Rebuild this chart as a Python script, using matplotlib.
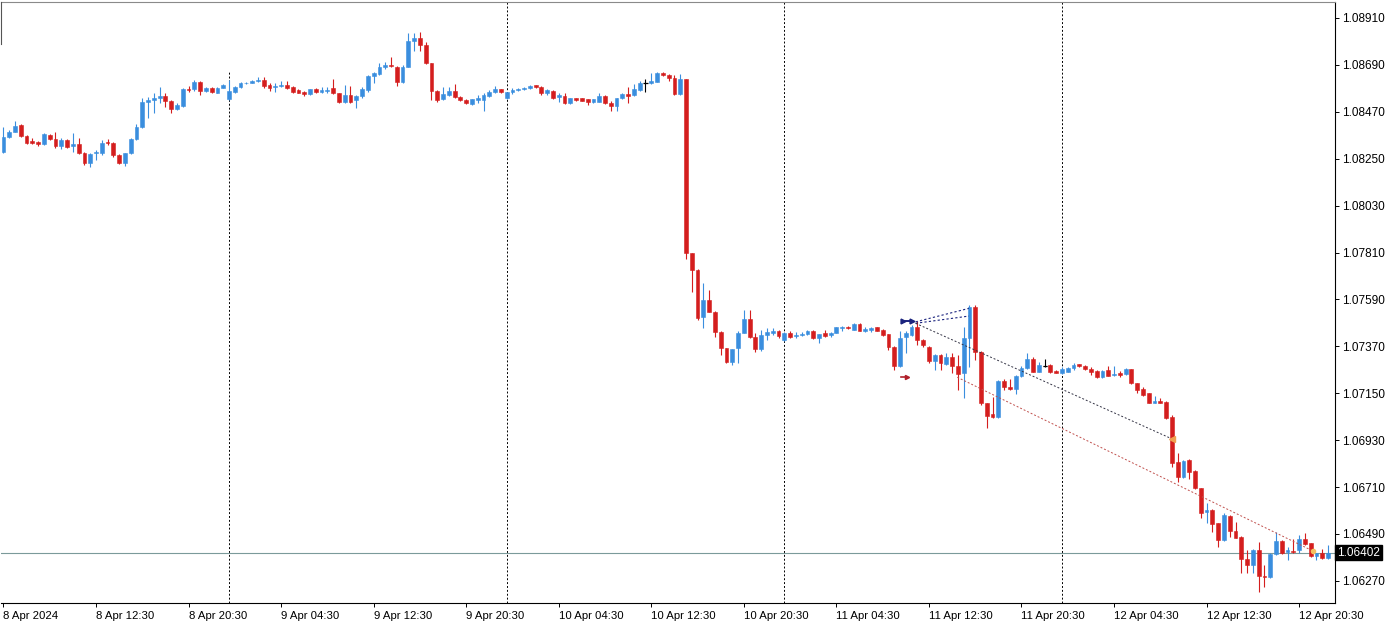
"""EURUSD M30 candles, 8-12 Apr 2024, drawn in the MetaTrader style."""
import matplotlib
matplotlib.use("Agg")
import matplotlib.pyplot as plt
import numpy as np

# (open, high, low, close) per 30-minute bar, first bar 8 Apr 04:30
apr08 = [
    (1.08283, 1.08398, 1.08276, 1.08353), (1.08353, 1.08384, 1.08349, 1.08374),
    (1.08376, 1.08428, 1.08375, 1.08403), (1.08408, 1.08413, 1.08351, 1.08356),
    (1.08356, 1.08361, 1.08317, 1.08325), (1.08334, 1.08345, 1.08317, 1.08325),
    (1.08328, 1.08334, 1.08309, 1.08319), (1.08319, 1.08369, 1.08314, 1.08364),
    (1.08359, 1.08365, 1.08337, 1.08343), (1.08341, 1.08374, 1.08298, 1.08309),
    (1.08309, 1.08348, 1.08294, 1.08337), (1.08337, 1.08342, 1.08301, 1.08306),
    (1.08309, 1.08372, 1.08283, 1.08319), (1.08319, 1.08347, 1.08274, 1.08278),
    (1.08278, 1.08281, 1.08219, 1.08231), (1.08231, 1.08276, 1.08209, 1.08272),
    (1.08275, 1.08291, 1.08244, 1.08281), (1.08278, 1.08337, 1.08267, 1.08325),
    (1.08328, 1.08341, 1.08314, 1.08322), (1.08325, 1.08328, 1.08259, 1.08267),
    (1.08267, 1.08272, 1.08227, 1.08231), (1.08231, 1.08279, 1.08215, 1.08275),
    (1.08275, 1.08347, 1.08272, 1.08341), (1.08341, 1.08413, 1.08337, 1.08400),
    (1.08400, 1.08534, 1.08396, 1.08517), (1.08517, 1.08538, 1.08441, 1.08525),
    (1.08525, 1.08559, 1.08465, 1.08533), (1.08533, 1.08585, 1.08510, 1.08544),
    (1.08544, 1.08559, 1.08491, 1.08522), (1.08522, 1.08525, 1.08465, 1.08481),
    (1.08481, 1.08510, 1.08478, 1.08500), (1.08497, 1.08581, 1.08492, 1.08575),
    (1.08575, 1.08591, 1.08564, 1.08572), (1.08575, 1.08619, 1.08569, 1.08609),
    (1.08609, 1.08614, 1.08549, 1.08567), (1.08567, 1.08587, 1.08563, 1.08583),
    (1.08583, 1.08586, 1.08558, 1.08563), (1.08559, 1.08586, 1.08556, 1.08583),
    (1.08583, 1.08600, 1.08580, 1.08594),
]
apr09 = [
    (1.08530, 1.08619, 1.08525, 1.08567), (1.08563, 1.08591, 1.08558, 1.08587),
    (1.08587, 1.08609, 1.08584, 1.08606), (1.08603, 1.08611, 1.08600, 1.08606),
    (1.08606, 1.08619, 1.08603, 1.08615), (1.08613, 1.08632, 1.08611, 1.08619),
    (1.08619, 1.08634, 1.08583, 1.08591), (1.08596, 1.08604, 1.08569, 1.08583),
    (1.08585, 1.08604, 1.08564, 1.08591), (1.08592, 1.08614, 1.08587, 1.08596),
    (1.08596, 1.08614, 1.08575, 1.08580), (1.08587, 1.08591, 1.08560, 1.08564),
    (1.08572, 1.08575, 1.08556, 1.08559), (1.08564, 1.08567, 1.08544, 1.08553),
    (1.08553, 1.08578, 1.08550, 1.08575), (1.08575, 1.08580, 1.08559, 1.08564),
    (1.08563, 1.08585, 1.08559, 1.08572), (1.08566, 1.08585, 1.08559, 1.08573),
    (1.08580, 1.08622, 1.08553, 1.08556), (1.08556, 1.08559, 1.08510, 1.08517),
    (1.08517, 1.08598, 1.08510, 1.08549), (1.08549, 1.08591, 1.08510, 1.08517),
    (1.08525, 1.08547, 1.08486, 1.08544), (1.08544, 1.08587, 1.08533, 1.08575),
    (1.08572, 1.08642, 1.08564, 1.08638), (1.08638, 1.08658, 1.08603, 1.08650),
    (1.08647, 1.08697, 1.08642, 1.08681), (1.08681, 1.08705, 1.08669, 1.08689),
    (1.08688, 1.08725, 1.08681, 1.08683), (1.08681, 1.08685, 1.08591, 1.08609),
    (1.08609, 1.08689, 1.08604, 1.08681), (1.08681, 1.08838, 1.08678, 1.08803),
    (1.08803, 1.08838, 1.08756, 1.08814), (1.08814, 1.08845, 1.08756, 1.08783),
    (1.08783, 1.08798, 1.08694, 1.08697), (1.08697, 1.08700, 1.08525, 1.08569),
    (1.08569, 1.08572, 1.08517, 1.08527), (1.08528, 1.08587, 1.08525, 1.08553),
    (1.08549, 1.08587, 1.08545, 1.08569), (1.08569, 1.08600, 1.08533, 1.08540),
    (1.08540, 1.08544, 1.08520, 1.08525), (1.08525, 1.08528, 1.08505, 1.08510),
    (1.08505, 1.08532, 1.08501, 1.08528), (1.08525, 1.08549, 1.08510, 1.08533),
    (1.08525, 1.08556, 1.08475, 1.08549), (1.08544, 1.08572, 1.08541, 1.08564),
    (1.08561, 1.08591, 1.08558, 1.08575), (1.08575, 1.08578, 1.08558, 1.08561),
]
apr10 = [
    (1.08533, 1.08564, 1.08528, 1.08561), (1.08561, 1.08580, 1.08552, 1.08572),
    (1.08572, 1.08581, 1.08567, 1.08578), (1.08575, 1.08585, 1.08572, 1.08581),
    (1.08581, 1.08594, 1.08578, 1.08591), (1.08594, 1.08596, 1.08581, 1.08585),
    (1.08587, 1.08591, 1.08549, 1.08556), (1.08556, 1.08575, 1.08549, 1.08572),
    (1.08569, 1.08572, 1.08530, 1.08533), (1.08540, 1.08556, 1.08517, 1.08549),
    (1.08544, 1.08556, 1.08506, 1.08510), (1.08510, 1.08536, 1.08505, 1.08533),
    (1.08533, 1.08536, 1.08522, 1.08525), (1.08533, 1.08536, 1.08519, 1.08522),
    (1.08528, 1.08531, 1.08502, 1.08517), (1.08514, 1.08531, 1.08512, 1.08528),
    (1.08517, 1.08556, 1.08514, 1.08544), (1.08544, 1.08547, 1.08505, 1.08510),
    (1.08510, 1.08520, 1.08475, 1.08497), (1.08497, 1.08536, 1.08475, 1.08533),
    (1.08533, 1.08556, 1.08530, 1.08553), (1.08553, 1.08587, 1.08510, 1.08544),
    (1.08549, 1.08600, 1.08545, 1.08575), (1.08572, 1.08615, 1.08569, 1.08604),
    (1.08606, 1.08622, 1.08564, 1.08606), (1.08604, 1.08650, 1.08600, 1.08615),
    (1.08611, 1.08656, 1.08608, 1.08653), (1.08653, 1.08658, 1.08639, 1.08642),
    (1.08642, 1.08646, 1.08615, 1.08627), (1.08627, 1.08642, 1.08549, 1.08552),
    (1.08552, 1.08647, 1.08549, 1.08622), (1.08622, 1.08625, 1.07778, 1.07806),
    (1.07806, 1.07809, 1.07626, 1.07728), (1.07728, 1.07731, 1.07493, 1.07501),
    (1.07509, 1.07665, 1.07454, 1.07587), (1.07587, 1.07634, 1.07529, 1.07532),
    (1.07532, 1.07535, 1.07415, 1.07438), (1.07438, 1.07443, 1.07329, 1.07361),
    (1.07361, 1.07364, 1.07290, 1.07298), (1.07298, 1.07359, 1.07282, 1.07356),
    (1.07361, 1.07440, 1.07290, 1.07434), (1.07434, 1.07540, 1.07431, 1.07497),
    (1.07497, 1.07540, 1.07410, 1.07414), (1.07415, 1.07432, 1.07345, 1.07358),
    (1.07358, 1.07446, 1.07349, 1.07423), (1.07423, 1.07454, 1.07399, 1.07435),
    (1.07432, 1.07454, 1.07423, 1.07443), (1.07443, 1.07446, 1.07407, 1.07418),
]
apr11 = [
    (1.07399, 1.07437, 1.07395, 1.07434), (1.07434, 1.07442, 1.07411, 1.07415),
    (1.07418, 1.07438, 1.07407, 1.07424), (1.07423, 1.07435, 1.07420, 1.07430),
    (1.07426, 1.07446, 1.07423, 1.07442), (1.07442, 1.07445, 1.07404, 1.07407),
    (1.07407, 1.07429, 1.07387, 1.07426), (1.07434, 1.07446, 1.07415, 1.07418),
    (1.07423, 1.07437, 1.07415, 1.07434), (1.07434, 1.07462, 1.07431, 1.07459),
    (1.07456, 1.07465, 1.07443, 1.07459), (1.07462, 1.07465, 1.07451, 1.07454),
    (1.07449, 1.07478, 1.07446, 1.07474), (1.07474, 1.07478, 1.07440, 1.07443),
    (1.07443, 1.07459, 1.07438, 1.07451), (1.07449, 1.07462, 1.07438, 1.07456),
    (1.07459, 1.07462, 1.07440, 1.07443), (1.07449, 1.07452, 1.07420, 1.07423),
    (1.07426, 1.07429, 1.07353, 1.07368), (1.07368, 1.07371, 1.07259, 1.07277),
    (1.07277, 1.07443, 1.07274, 1.07408), (1.07412, 1.07443, 1.07337, 1.07431),
    (1.07423, 1.07470, 1.07420, 1.07459), (1.07459, 1.07490, 1.07376, 1.07399),
    (1.07399, 1.07403, 1.07368, 1.07376), (1.07368, 1.07371, 1.07293, 1.07303),
    (1.07303, 1.07332, 1.07259, 1.07329), (1.07329, 1.07332, 1.07259, 1.07293),
    (1.07287, 1.07337, 1.07283, 1.07321), (1.07321, 1.07337, 1.07243, 1.07277),
    (1.07277, 1.07329, 1.07165, 1.07240), (1.07246, 1.07462, 1.07126, 1.07408),
    (1.07408, 1.07564, 1.07274, 1.07556), (1.07556, 1.07564, 1.07306, 1.07345),
    (1.07345, 1.07348, 1.07095, 1.07102), (1.07102, 1.07105, 1.06985, 1.07043),
    (1.07052, 1.07134, 1.07032, 1.07038), (1.07040, 1.07212, 1.07032, 1.07209),
    (1.07209, 1.07217, 1.07165, 1.07178), (1.07178, 1.07217, 1.07165, 1.07168),
    (1.07168, 1.07234, 1.07146, 1.07231), (1.07231, 1.07277, 1.07228, 1.07268),
    (1.07268, 1.07337, 1.07264, 1.07309), (1.07309, 1.07321, 1.07248, 1.07251),
    (1.07251, 1.07298, 1.07248, 1.07282), (1.07277, 1.07313, 1.07272, 1.07277),
    (1.07283, 1.07287, 1.07246, 1.07249), (1.07255, 1.07259, 1.07243, 1.07246),
]
apr12 = [
    (1.07243, 1.07274, 1.07240, 1.07262), (1.07251, 1.07274, 1.07248, 1.07270),
    (1.07268, 1.07290, 1.07259, 1.07283), (1.07285, 1.07287, 1.07274, 1.07277),
    (1.07277, 1.07281, 1.07259, 1.07262), (1.07262, 1.07271, 1.07236, 1.07251),
    (1.07255, 1.07259, 1.07221, 1.07224), (1.07224, 1.07259, 1.07221, 1.07255),
    (1.07259, 1.07277, 1.07229, 1.07232), (1.07234, 1.07277, 1.07231, 1.07240),
    (1.07243, 1.07255, 1.07228, 1.07236), (1.07238, 1.07268, 1.07236, 1.07262),
    (1.07262, 1.07266, 1.07193, 1.07196), (1.07196, 1.07199, 1.07149, 1.07165),
    (1.07168, 1.07178, 1.07139, 1.07142), (1.07150, 1.07153, 1.07102, 1.07105),
    (1.07105, 1.07137, 1.07102, 1.07115), (1.07115, 1.07126, 1.07102, 1.07105),
    (1.07110, 1.07113, 1.07029, 1.07032), (1.07037, 1.07048, 1.06805, 1.06821),
    (1.06829, 1.06868, 1.06735, 1.06755), (1.06755, 1.06837, 1.06751, 1.06833),
    (1.06837, 1.06840, 1.06750, 1.06782), (1.06785, 1.06788, 1.06701, 1.06704),
    (1.06704, 1.06707, 1.06563, 1.06589), (1.06593, 1.06636, 1.06540, 1.06602),
    (1.06602, 1.06605, 1.06500, 1.06535), (1.06540, 1.06543, 1.06430, 1.06461),
    (1.06461, 1.06587, 1.06458, 1.06579), (1.06574, 1.06577, 1.06477, 1.06504),
    (1.06505, 1.06547, 1.06469, 1.06472), (1.06477, 1.06480, 1.06305, 1.06375),
    (1.06375, 1.06415, 1.06305, 1.06344), (1.06344, 1.06418, 1.06305, 1.06415),
    (1.06415, 1.06453, 1.06219, 1.06293), (1.06294, 1.06344, 1.06242, 1.06286),
    (1.06286, 1.06400, 1.06283, 1.06396), (1.06396, 1.06500, 1.06393, 1.06458),
    (1.06458, 1.06461, 1.06396, 1.06400), (1.06407, 1.06430, 1.06368, 1.06415),
    (1.06412, 1.06465, 1.06402, 1.06406), (1.06415, 1.06485, 1.06402, 1.06465),
    (1.06465, 1.06496, 1.06439, 1.06443), (1.06446, 1.06449, 1.06383, 1.06386),
    (1.06386, 1.06402, 1.06368, 1.06400), (1.06400, 1.06418, 1.06373, 1.06376),
    (1.06376, 1.06438, 1.06373, 1.06402),
]

TIME_LABELS = [
    "8 Apr 2024", "8 Apr 12:30", "8 Apr 20:30", "9 Apr 04:30", "9 Apr 12:30",
    "9 Apr 20:30", "10 Apr 04:30", "10 Apr 12:30", "10 Apr 20:30", "11 Apr 04:30",
    "11 Apr 12:30", "11 Apr 20:30", "12 Apr 04:30", "12 Apr 12:30", "12 Apr 20:30",
]
PRICE_TICKS = [1.08910, 1.08690, 1.08470, 1.08250, 1.08030, 1.07810, 1.07590,
               1.07370, 1.07150, 1.06930, 1.06710, 1.06490, 1.06270]
LAST_PRICE = 1.06402

# trade objects on the chart: (bar, price) pairs
entry_arrows = [(155.5, 1.07490), (157.0, 1.07490)]
stop_arrow = (155.8, 1.07226)
blue_links = [((157.7, 1.07485), (166.9, 1.07548)), ((157.7, 1.07478), (166.9, 1.07512))]
gray_link = ((157.7, 1.07478), (202.1, 1.06935))
red_link = ((164.9, 1.07225), (226.4, 1.06410))

BULL = "#3a8ede"
BEAR = "#d41e1e"
FONT = "Liberation Sans"

days = [apr08, apr09, apr10, apr11, apr12]
ohlc = np.array(sum(days, []))
o, h, l, c = ohlc.T
x = np.arange(len(ohlc))
hi = np.maximum(h, np.maximum(o, c))
lo = np.minimum(l, np.minimum(o, c))

fig = plt.figure(figsize=(13.87, 6.27), dpi=100)
ax = fig.add_axes([1 / 1387, 24 / 627, 1334 / 1387, 601 / 627])

cols = np.where(c > o, BULL, np.where(c < o, BEAR, "#000000"))
ax.vlines(x, lo, hi, colors=cols, lw=0.8, zorder=3)
body = np.abs(c - o)
ax.bar(x, body, bottom=np.minimum(o, c), width=0.66, color=cols,
       edgecolor=cols, linewidth=0.4, zorder=4)
flat = c == o
ax.hlines(o[flat], x[flat] - 0.35, x[flat] + 0.35, colors="#000000", lw=0.9, zorder=4)

# day separators (the first one is hidden near the top, as in the terminal)
starts = np.cumsum([len(d) for d in days])[:-1]
for k, s in enumerate(starts):
    ax.axvline(s, ymax=0.885 if k == 0 else 1.0, color="#000000", lw=0.7,
               ls=(0, (2, 2)), zorder=1)

# bid line
ax.axhline(LAST_PRICE, color="#7b9a9a", lw=0.8, zorder=2)

# trade markers
for (x0, y0), (x1, y1) in blue_links:
    ax.plot([x0, x1], [y0, y1], color="#1a237e", lw=0.8, ls=(0, (2, 2)), zorder=5)
ax.plot(*zip(*gray_link), color="#333344", lw=0.7, ls=(0, (2, 2)), zorder=5)
ax.plot(*zip(*red_link), color="#c0504d", lw=0.7, ls=(0, (2, 2)), zorder=5)
ax.plot([p[0] for p in entry_arrows], [p[1] for p in entry_arrows], color="#1a237e",
        lw=1.4, marker=">", ms=3.5, zorder=6)
ax.plot([stop_arrow[0] - 0.6, stop_arrow[0] + 0.4], [stop_arrow[1]] * 2, color="#b0202a",
        lw=1.2, marker=">", markevery=[1], ms=3, zorder=6)
ax.plot(*gray_link[1], marker="<", color="#f0a050", ms=4, zorder=6)
ax.plot(*red_link[1], marker="o", color="#f5c060", ms=3, zorder=6)

n = len(ohlc)
ax.set_xlim(-0.42, 230.2)
ax.set_ylim(1.061663, 1.089850)

ax.yaxis.tick_right()
ax.set_yticks(PRICE_TICKS)
ax.set_yticklabels([f"{p:.5f}" for p in PRICE_TICKS], fontsize=8.5, family=FONT)
ax.set_xticks(np.arange(0, n, 16))
ax.set_xticklabels(TIME_LABELS, fontsize=8.2, family=FONT, ha="left")
ax.tick_params(axis="y", direction="out", length=3, width=0.7, pad=2, colors="#000000")
ax.tick_params(axis="x", direction="out", length=3, width=0.7, pad=3, colors="#000000")

ax.spines["left"].set_visible(False)
ax.spines["top"].set_color("#8a8a8a")
ax.spines["top"].set_linewidth(0.8)
for side in ("right", "bottom"):
    ax.spines[side].set_linewidth(0.8)
    ax.spines[side].set_color("#000000")
# short stub of the left frame at the top
ax.plot([0, 0], [1.0, 0.93], transform=ax.transAxes, color="#555555", lw=0.8,
        clip_on=False, zorder=6)

ax.text(1.0015, LAST_PRICE, f"{LAST_PRICE:.5f}", transform=ax.get_yaxis_transform(),
        ha="left", va="center", fontsize=8.5, family=FONT, color="white",
        bbox=dict(facecolor="black", edgecolor="black", pad=1.2), clip_on=False)

fig.savefig("out.png", dpi=100)
